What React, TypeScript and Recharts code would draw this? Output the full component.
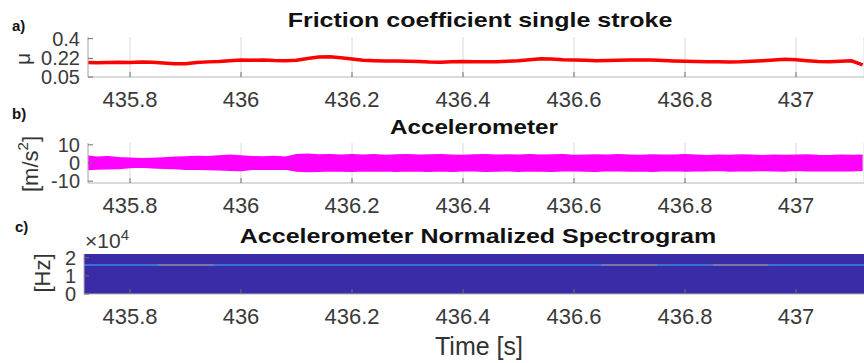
import React from 'react';
import { ComposedChart, Line, Area, XAxis, YAxis, CartesianGrid } from 'recharts';

const timeTicks = [435.8, 436, 436.2, 436.4, 436.6, 436.8, 437];
const frictionTicks = [0.05, 0.22, 0.4];
const accelTicks = [-10, 0, 10];
const specTicks = [0, 1, 2];

const sampleTimes = [
  435.72, 435.74, 435.76, 435.78, 435.8, 435.82, 435.84, 435.86, 435.88, 435.9,
  435.92, 435.94, 435.96, 435.98, 436.0, 436.02, 436.04, 436.06, 436.08, 436.1,
  436.12, 436.14, 436.16, 436.18, 436.2, 436.22, 436.24, 436.26, 436.28, 436.3,
  436.32, 436.34, 436.36, 436.38, 436.4, 436.42, 436.44, 436.46, 436.48, 436.5,
  436.52, 436.54, 436.56, 436.58, 436.6, 436.62, 436.64, 436.66, 436.68, 436.7,
  436.72, 436.74, 436.76, 436.78, 436.8, 436.82, 436.84, 436.86, 436.88, 436.9,
  436.92, 436.94, 436.96, 436.98, 437.0, 437.02, 437.04, 437.06, 437.08, 437.1,
  437.12,
];

const frictionValues = [
  0.184, 0.181, 0.183, 0.185, 0.182, 0.186, 0.185, 0.178, 0.170, 0.172,
  0.182, 0.188, 0.192, 0.199, 0.204, 0.203, 0.206, 0.201, 0.199, 0.203,
  0.218, 0.232, 0.235, 0.226, 0.214, 0.203, 0.199, 0.197, 0.196, 0.194,
  0.191, 0.186, 0.184, 0.189, 0.192, 0.190, 0.189, 0.190, 0.194, 0.199,
  0.208, 0.216, 0.214, 0.207, 0.206, 0.203, 0.198, 0.200, 0.203, 0.206,
  0.206, 0.204, 0.200, 0.197, 0.194, 0.191, 0.189, 0.190, 0.188, 0.189,
  0.193, 0.199, 0.206, 0.211, 0.208, 0.199, 0.192, 0.190, 0.193, 0.198,
  0.160,
];

const accelUpper = [
  3.8, 3.2, 3.4, 2.9, 2.6, 2.3, 2.5, 2.8, 3.1, 3.3,
  3.6, 3.4, 3.8, 4.2, 3.9, 3.5, 3.3, 3.6, 3.2, 4.6,
  4.8, 4.4, 4.6, 4.2, 4.5, 4.3, 4.6, 4.1, 4.4, 4.5,
  4.2, 4.4, 4.6, 4.3, 4.1, 4.4, 4.5, 4.2, 4.4, 4.3,
  4.6, 4.2, 4.4, 4.5, 4.1, 4.3, 4.4, 4.2, 4.5, 4.3,
  4.1, 4.4, 4.2, 4.3, 4.5, 4.2, 4.0, 4.3, 4.1, 4.4,
  4.2, 4.0, 4.3, 4.1, 4.2, 4.4, 4.1, 4.0, 4.3, 4.1,
  4.2,
];

const accelLower = [
  -3.6, -3.3, -3.1, -3.0, -2.5, -2.2, -2.6, -2.9, -3.0, -3.4,
  -3.5, -3.6, -3.7, -4.0, -4.1, -3.4, -3.5, -3.4, -3.3, -4.4,
  -4.7, -4.5, -4.3, -4.4, -4.6, -4.2, -4.4, -4.3, -4.5, -4.2,
  -4.4, -4.6, -4.3, -4.5, -4.2, -4.3, -4.5, -4.4, -4.2, -4.5,
  -4.3, -4.4, -4.6, -4.2, -4.3, -4.4, -4.5, -4.1, -4.3, -4.4,
  -4.2, -4.5, -4.3, -4.1, -4.4, -4.3, -4.2, -4.0, -4.4, -4.2,
  -4.3, -4.1, -4.2, -4.4, -4.0, -4.3, -4.2, -4.1, -4.3, -4.2,
  -4.0,
];

const specTimes = [
  435.7, 435.75, 435.8, 435.85, 435.9, 435.95, 436.0, 436.05, 436.1, 436.15,
  436.2, 436.25, 436.3, 436.35, 436.4, 436.45, 436.5, 436.55, 436.6, 436.65,
  436.7, 436.75, 436.8, 436.85, 436.9, 436.95, 437.0, 437.05, 437.1, 437.15,
];
const specTop = [
  2.205, 2.205, 2.205, 2.205, 2.205, 2.205, 2.205, 2.205, 2.205, 2.205,
  2.205, 2.205, 2.205, 2.205, 2.205, 2.205, 2.205, 2.205, 2.205, 2.205,
  2.205, 2.205, 2.205, 2.205, 2.205, 2.205, 2.205, 2.205, 2.205, 2.205,
];
const specLineBlue = [
  1.6, 1.6, 1.6, 1.6, 1.6, 1.6, 1.6, 1.6, 1.6, 1.6,
  1.6, 1.6, 1.6, 1.6, 1.6, 1.6, 1.6, 1.6, 1.6, 1.6,
  1.6, 1.6, 1.6, 1.6, 1.6, 1.6, 1.6, 1.6, 1.6, 1.6,
];
const specLineWarm = [
  null, null, null, 1.6, 1.6, 1.6, null, null, null, null,
  null, null, null, null, null, null, null, null, null, 1.6,
  1.6, 1.6, null, 1.6, 1.6, 1.6, null, null, null, null,
];

const frictionData = sampleTimes.map((t, i) => ({ t, mu: frictionValues[i] }));
const accelData = sampleTimes.map((t, i) => ({ t, range: [accelLower[i], accelUpper[i]] }));
const specData = specTimes.map((t, i) => ({
  t,
  top: specTop[i],
  blue: specLineBlue[i],
  warm: specLineWarm[i],
}));

const FONT = '"Liberation Sans", Arial, Helvetica, sans-serif';
const tickStyle = { fontSize: 22, fill: '#3a3a3a', fontFamily: FONT };
const yTickStyle = { fontSize: 20, fill: '#3a3a3a', fontFamily: FONT };
const AXIS = '#b4b4b4';
const TICK = '#707070';
const X_AB: [number, number] = [435.7243, 437.1225];
const X_C: [number, number] = [435.7171, 437.1225];

const Abs: React.FC<{ style: React.CSSProperties; children?: React.ReactNode }> = ({ style, children }) => (
  <div style={{ position: 'absolute', whiteSpace: 'nowrap', fontFamily: FONT, color: '#111', ...style }}>{children}</div>
);

const vertical: React.CSSProperties = {
  writingMode: 'vertical-rl',
  transform: 'translate(-50%, -50%) rotate(180deg)',
  color: '#333',
};

function xAxes(domain: [number, number]) {
  return [
    <XAxis
      key="xb"
      dataKey="t"
      type="number"
      domain={domain}
      ticks={timeTicks}
      interval={0}
      allowDataOverflow
      height={41}
      tickSize={-5}
      tickMargin={19}
      axisLine={{ stroke: AXIS }}
      tickLine={{ stroke: TICK }}
      tick={tickStyle}
    />,
    <XAxis
      key="xt"
      xAxisId="top"
      orientation="top"
      dataKey="t"
      type="number"
      domain={domain}
      ticks={timeTicks}
      interval={0}
      allowDataOverflow
      height={0}
      tickSize={-5}
      axisLine={{ stroke: AXIS }}
      tickLine={{ stroke: TICK }}
      tick={false}
    />,
  ];
}

export default function App() {
  return (
    <div style={{ position: 'absolute', left: 0, top: 0, width: 864, height: 363, overflow: 'hidden', background: '#fff' }}>
      {/* Panel a */}
      <div style={{ position: 'absolute', left: 0, top: 0 }}>
        <ComposedChart width={864} height={118} data={frictionData} margin={{ top: 37, right: 0, bottom: 0, left: 0 }}>
          <CartesianGrid vertical horizontal={false} stroke="#dadada" />
          {xAxes(X_AB)}
          <YAxis
            type="number"
            domain={[0.05, 0.415]}
            ticks={frictionTicks}
            interval={0}
            allowDataOverflow
            width={88}
            tickSize={-5}
            tickMargin={13}
            axisLine={{ stroke: AXIS }}
            tickLine={{ stroke: TICK }}
            tick={yTickStyle}
          />
          <Line dataKey="mu" stroke="#ff0000" strokeWidth={3.5} dot={false} isAnimationActive={false} />
        </ComposedChart>
      </div>

      {/* Panel b */}
      <div style={{ position: 'absolute', left: 0, top: 110 }}>
        <ComposedChart width={864} height={114} data={accelData} margin={{ top: 33, right: 0, bottom: 0, left: 0 }}>
          <CartesianGrid vertical horizontal={false} stroke="#dadada" />
          {xAxes(X_AB)}
          <YAxis
            type="number"
            domain={[-11, 11]}
            ticks={accelTicks}
            interval={0}
            allowDataOverflow
            width={88}
            tickSize={-5}
            tickMargin={13}
            axisLine={{ stroke: AXIS }}
            tickLine={{ stroke: TICK }}
            tick={yTickStyle}
          />
          <Area
            dataKey="range"
            type="linear"
            stroke="#ff00ff"
            strokeWidth={1.5}
            fill="#ff00ff"
            fillOpacity={1}
            isAnimationActive={false}
          />
        </ComposedChart>
      </div>

      {/* Panel c */}
      <div style={{ position: 'absolute', left: 0, top: 220 }}>
        <ComposedChart width={864} height={115} data={specData} margin={{ top: 34, right: 0, bottom: 0, left: 0 }}>
          {xAxes(X_C)}
          <YAxis
            type="number"
            domain={[0, 2.205]}
            ticks={specTicks}
            interval={0}
            allowDataOverflow
            width={84}
            tickSize={-5}
            tickMargin={13}
            axisLine={{ stroke: AXIS }}
            tickLine={{ stroke: TICK }}
            tick={yTickStyle}
          />
          <Area dataKey="top" type="linear" stroke="none" fill="#3a2ca6" fillOpacity={1} isAnimationActive={false} />
          <Line dataKey="blue" stroke="#3f86dc" strokeWidth={1.5} dot={false} isAnimationActive={false} />
          <Line dataKey="warm" stroke="#b2807a" strokeWidth={1.2} dot={false} connectNulls={false} isAnimationActive={false} />
        </ComposedChart>
      </div>

      {/* Panel labels */}
      <Abs style={{ left: 12, top: 18, fontSize: 15, fontWeight: 700, lineHeight: '15px' }}>a)</Abs>
      <Abs style={{ left: 12, top: 106, fontSize: 15, fontWeight: 700, lineHeight: '15px' }}>b)</Abs>
      <Abs style={{ left: 15, top: 219, fontSize: 15, fontWeight: 700, lineHeight: '15px' }}>c)</Abs>

      {/* Titles */}
      <Abs style={{ left: 480, top: 9, fontSize: 21, fontWeight: 700, lineHeight: '21px', transform: 'translateX(-50%) scaleX(1.19)' }}>
        Friction coefficient single stroke
      </Abs>
      <Abs style={{ left: 474, top: 116, fontSize: 21, fontWeight: 700, lineHeight: '21px', transform: 'translateX(-50%) scaleX(1.15)' }}>
        Accelerometer
      </Abs>
      <Abs style={{ left: 478, top: 225, fontSize: 21, fontWeight: 700, lineHeight: '21px', transform: 'translateX(-50%) scaleX(1.19)' }}>
        Accelerometer Normalized Spectrogram
      </Abs>

      {/* Y axis titles */}
      <Abs style={{ left: 22, top: 59, fontSize: 21, lineHeight: '21px', ...vertical }}>
        μ
      </Abs>
      <Abs style={{ left: 31, top: 164, fontSize: 22, lineHeight: '22px', ...vertical }}>
        [m/s<span style={{ fontSize: 15, verticalAlign: 'super', lineHeight: '0' }}>2</span>]
      </Abs>
      <Abs style={{ left: 43, top: 273, fontSize: 22, lineHeight: '22px', ...vertical }}>
        [Hz]
      </Abs>
      <Abs style={{ left: 85, top: 230, fontSize: 21, lineHeight: '21px', color: '#3a3a3a' }}>
        ×10<sup style={{ fontSize: 15, verticalAlign: 'top', position: 'relative', top: -6 }}>4</sup>
      </Abs>

      {/* X axis title */}
      <Abs style={{ left: 479, top: 334, fontSize: 25, lineHeight: '25px', color: '#333', transform: 'translateX(-50%)' }}>
        Time [s]
      </Abs>
    </div>
  );
}
